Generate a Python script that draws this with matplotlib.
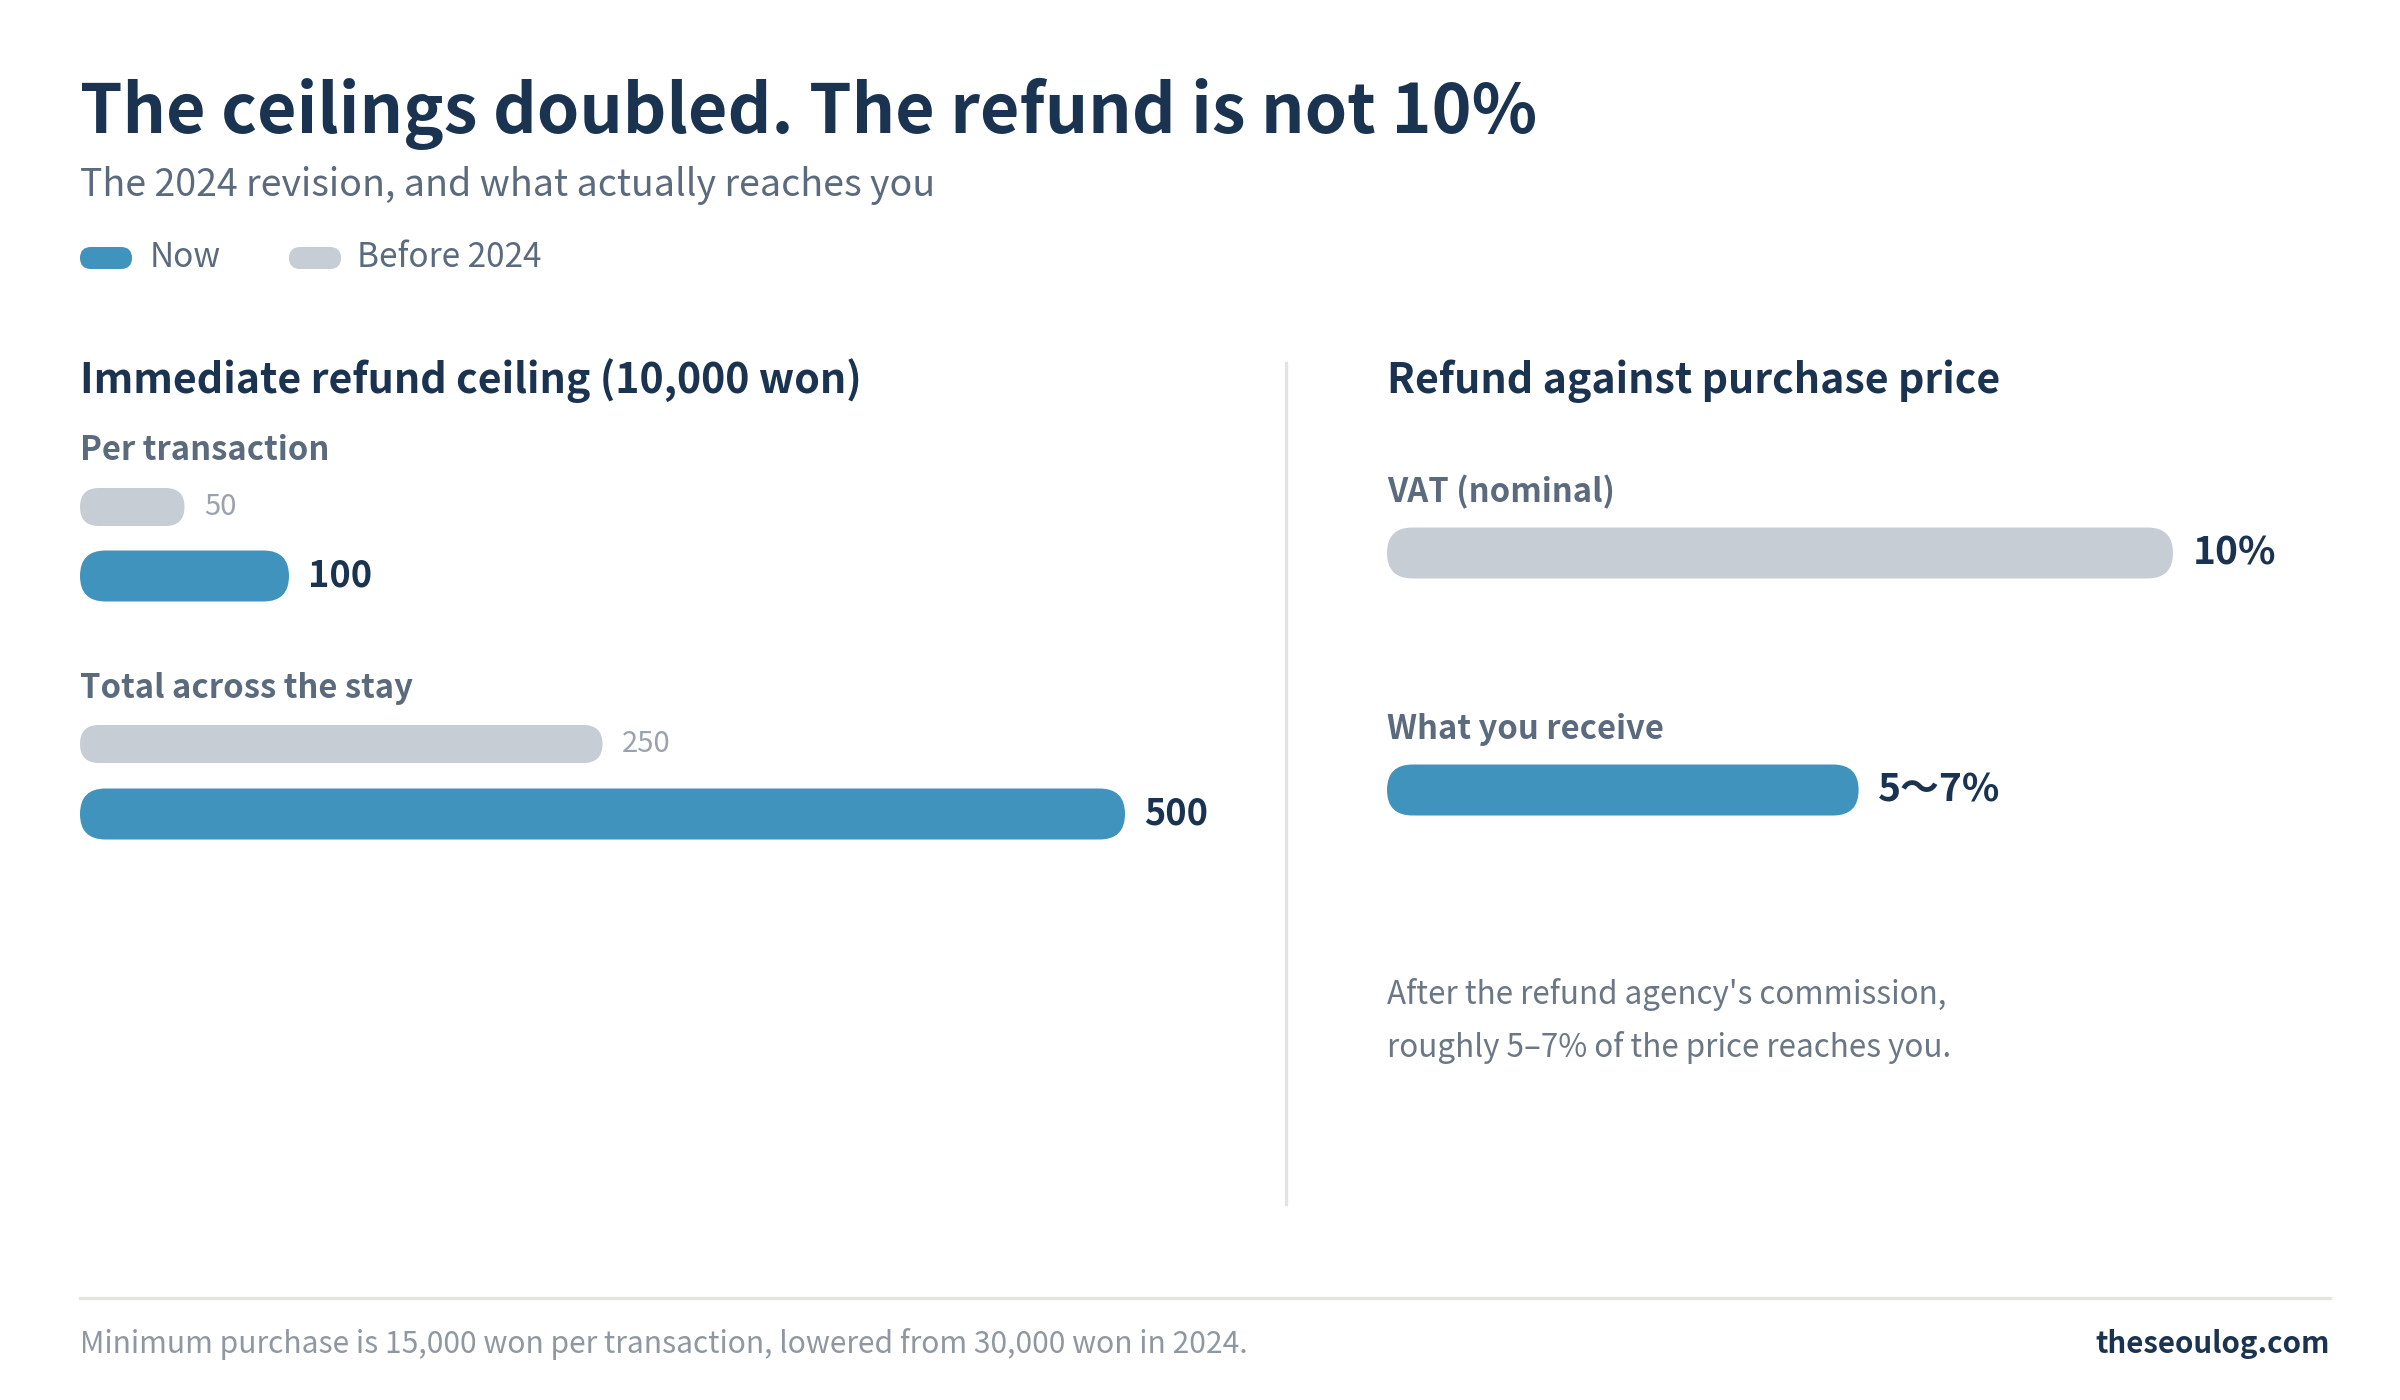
import matplotlib
matplotlib.use("Agg")
import matplotlib.pyplot as plt
from matplotlib.patches import FancyBboxPatch

plt.rcParams["font.family"] = ["Noto Sans CJK KR", "DejaVu Sans"]

# ---- data ----
ceiling_groups = ["Per transaction", "Total across the stay"]
ceiling_before = [50, 250]
ceiling_now = [100, 500]

refund_labels = ["VAT (nominal)", "What you receive"]
refund_values = [10, 6]          # 5~7% shown at its midpoint
refund_text = ["10%", "5\u301c7%"]

legend_labels = ["Now", "Before 2024"]

NAVY = "#1a3350"
BLUE = "#3f93bc"
GREY = "#c7cdd5"
SLATE = "#5b6b7d"
LIGHT = "#9aa3ad"

W, H = 2400, 1400
fig = plt.figure(figsize=(12, 7), dpi=200)
fig.patch.set_facecolor("white")

# overlay axes in pixel units for text and decoration
base = fig.add_axes([0, 0, 1, 1])
base.set_xlim(0, W)
base.set_ylim(H, 0)
base.axis("off")


def pill(ax, x0, width, yc, h, color, ppu):
    r = (h / 2) / ppu
    p = FancyBboxPatch((x0, yc - h / 2), width, h,
                       boxstyle=f"round,pad=0,rounding_size={r}",
                       mutation_aspect=ppu, fc=color, ec="none")
    ax.add_patch(p)


def bar_axes(left_px, width_px, xmax):
    ax = fig.add_axes([left_px / W, 0, width_px / W, 1])
    ax.set_xlim(0, xmax)
    ax.set_ylim(H, 0)
    ax.axis("off")
    return ax, width_px / xmax


# ---- header ----
base.text(80, 133, "The ceilings doubled. The refund is not 10%", fontsize=24.5,
          fontweight="bold", color=NAVY, va="baseline")
base.text(80, 196, "The 2024 revision, and what actually reaches you", fontsize=13.5,
          color=SLATE, va="baseline")

# legend
pill(base, 80, 52, 258, 22, BLUE, 1)
base.text(150, 267, legend_labels[0], fontsize=12, color=SLATE, va="baseline")
pill(base, 289, 52, 258, 22, GREY, 1)
base.text(357, 267, legend_labels[1], fontsize=12, color=SLATE, va="baseline")

# ---- left panel: ceilings ----
base.text(80, 393, "Immediate refund ceiling (10,000 won)", fontsize=14.8,
          fontweight="bold", color=NAVY, va="baseline")
axl, ppl = bar_axes(80, 1045, 500)
group_label_y = [460, 698]
before_y = [507, 744]
now_y = [576, 814]
for i, g in enumerate(ceiling_groups):
    base.text(80, group_label_y[i], g, fontsize=11.8, fontweight="bold",
              color=SLATE, va="baseline")
    pill(axl, 0, ceiling_before[i], before_y[i], 38, GREY, ppl)
    axl.annotate(str(ceiling_before[i]), (ceiling_before[i], before_y[i]),
                 xytext=(7, 0), textcoords="offset points", va="center",
                 fontsize=10.5, color=LIGHT)
    pill(axl, 0, ceiling_now[i], now_y[i], 51, BLUE, ppl)
    axl.annotate(str(ceiling_now[i]), (ceiling_now[i], now_y[i]),
                 xytext=(7, 0), textcoords="offset points", va="center",
                 fontsize=13, fontweight="bold", color=NAVY)

# divider
base.plot([1286, 1286], [363, 1204], color="#e3e3e3", lw=1.2)

# ---- right panel: refund rate ----
base.text(1387, 393, "Refund against purchase price", fontsize=14.8,
          fontweight="bold", color=NAVY, va="baseline")
axr, ppr = bar_axes(1387, 786, 10)
label_y = [502, 739]
bar_y = [553, 790]
bar_col = [GREY, BLUE]
for i, lab in enumerate(refund_labels):
    base.text(1387, label_y[i], lab, fontsize=11.8, fontweight="bold",
              color=SLATE, va="baseline")
    pill(axr, 0, refund_values[i], bar_y[i], 51, bar_col[i], ppr)
    axr.annotate(refund_text[i], (refund_values[i], bar_y[i]),
                 xytext=(7, 0), textcoords="offset points", va="center",
                 fontsize=14, fontweight="bold", color=NAVY)

base.text(1387, 1004, "After the refund agency's commission,", fontsize=11.3,
          color="#6b7785", va="baseline")
base.text(1387, 1057, "roughly 5\u20137% of the price reaches you.", fontsize=11.3,
          color="#6b7785", va="baseline")

# ---- footer ----
base.plot([80, 2330], [1298, 1298], color="#e4e4df", lw=1.2)
base.text(80, 1353, "Minimum purchase is 15,000 won per transaction, lowered from 30,000 won in 2024.",
          fontsize=10.8, color="#8f98a1", va="baseline")
base.text(2330, 1353, "theseoulog.com", fontsize=10.6, fontweight="bold",
          color=NAVY, va="baseline", ha="right")

fig.savefig("out.png", dpi=200, facecolor="white")
